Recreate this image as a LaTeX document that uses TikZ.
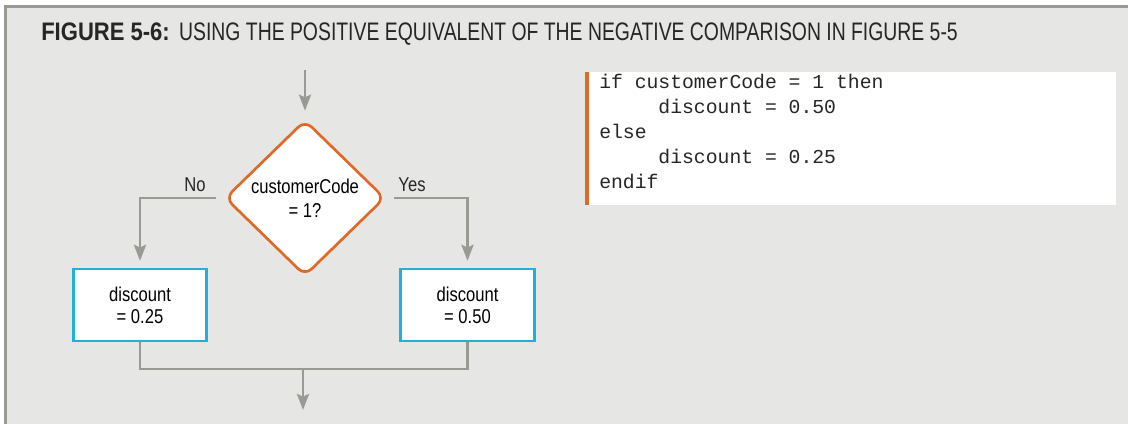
\documentclass[tikz,border=0pt]{standalone}
\usepackage{fontspec}
\usepackage{tikz}
\usetikzlibrary{positioning, arrows.meta, shapes.geometric}
\usepackage{xcolor}

\newfontfamily\flowfont[FakeStretch=0.83]{Liberation Sans}
\newfontfamily\headfont[FakeStretch=0.765]{Liberation Sans}
\newfontfamily\headbold[FakeStretch=0.87]{Liberation Sans}
\newfontfamily\codefont{Liberation Mono}

\definecolor{bggray}{HTML}{E6E6E4}
\definecolor{framegray}{HTML}{9A9A94}
\definecolor{linegray}{HTML}{9A9A94}
\definecolor{decorange}{HTML}{E0692A}
\definecolor{boxcyan}{HTML}{1FB2D9}

\begin{document}
\begin{tikzpicture}[
    x=0.75pt, y=-0.75pt,
    line/.style={draw=linegray, line width=2.2pt},
    flow/.style={line, -{Stealth[length=12pt, width=9pt, inset=2pt]}},
    decision/.style={diamond, draw=decorange, line width=2pt, fill=white, rounded corners=7pt, minimum width=120pt, minimum height=117pt, inner sep=0pt, align=center, font=\flowfont\fontsize{15pt}{18pt}\selectfont},
    process/.style={rectangle, draw=boxcyan, line width=2.2pt, fill=white, minimum width=100pt, minimum height=54pt, align=center, font=\flowfont\fontsize{15pt}{16.5pt}\selectfont},
    lbl/.style={font=\flowfont\fontsize{15pt}{16pt}\selectfont, text=black!85},
    codebg/.style={rectangle, fill=white, minimum width=396.5pt, minimum height=100pt, inner sep=0pt},
    codetext/.style={align=left, inner sep=0pt, text=black!85, font=\codefont\fontsize{14.8pt}{18.75pt}\selectfont}
]
\useasboundingbox (0,0) rectangle (1128,424);

% panel
\fill[framegray] (4,5) rectangle (1128,424);
\fill[bggray] (7,8) rectangle (1128,424);

% title
\node (title) [anchor=base west, inner sep=0pt, text=black!85, font=\fontsize{19pt}{21pt}\selectfont] at (41,41)
    {{\headbold\bfseries FIGURE 5-6:}\hspace{7pt}{\headfont USING THE POSITIVE EQUIVALENT OF THE NEGATIVE COMPARISON IN FIGURE 5-5}};

% flowchart
\coordinate (in) at (305,70);
\node (dec) [decision] at (305,198) {customerCode\\= 1?};
\node (low) [process] at (140,305) {discount\\= 0.25};
\node (high) [process] at (467.5,305) {discount\\= 0.50};
\coordinate (join) at (303,369);
\coordinate (out) at (303,410);

\draw [flow, shorten >=6pt] (in) -- (dec.north);
\draw [flow, shorten <=6pt, shorten >=5pt] (dec.west) -| (low.north);
\draw [flow, shorten <=6pt, shorten >=5pt] (dec.east) -| (high.north);
\draw [line] (low.south) |- (join) -| (high.south);
\draw [flow] (join) -- (out);

\node (no) [lbl] at (195,185) {No};
\node (yes) [lbl] at (412,185) {Yes};

% pseudocode
\node (codebox) [codebg] at (852,138.5) {};
\draw [draw=decorange, line width=3pt] (codebox.north west) -- (codebox.south west);
\node (code) [codetext, anchor=north west] at (599,74) {%
if customerCode = 1 then\\
\hspace*{3em}discount = 0.50\\
else\\
\hspace*{3em}discount = 0.25\\
endif};

\end{tikzpicture}
\end{document}
